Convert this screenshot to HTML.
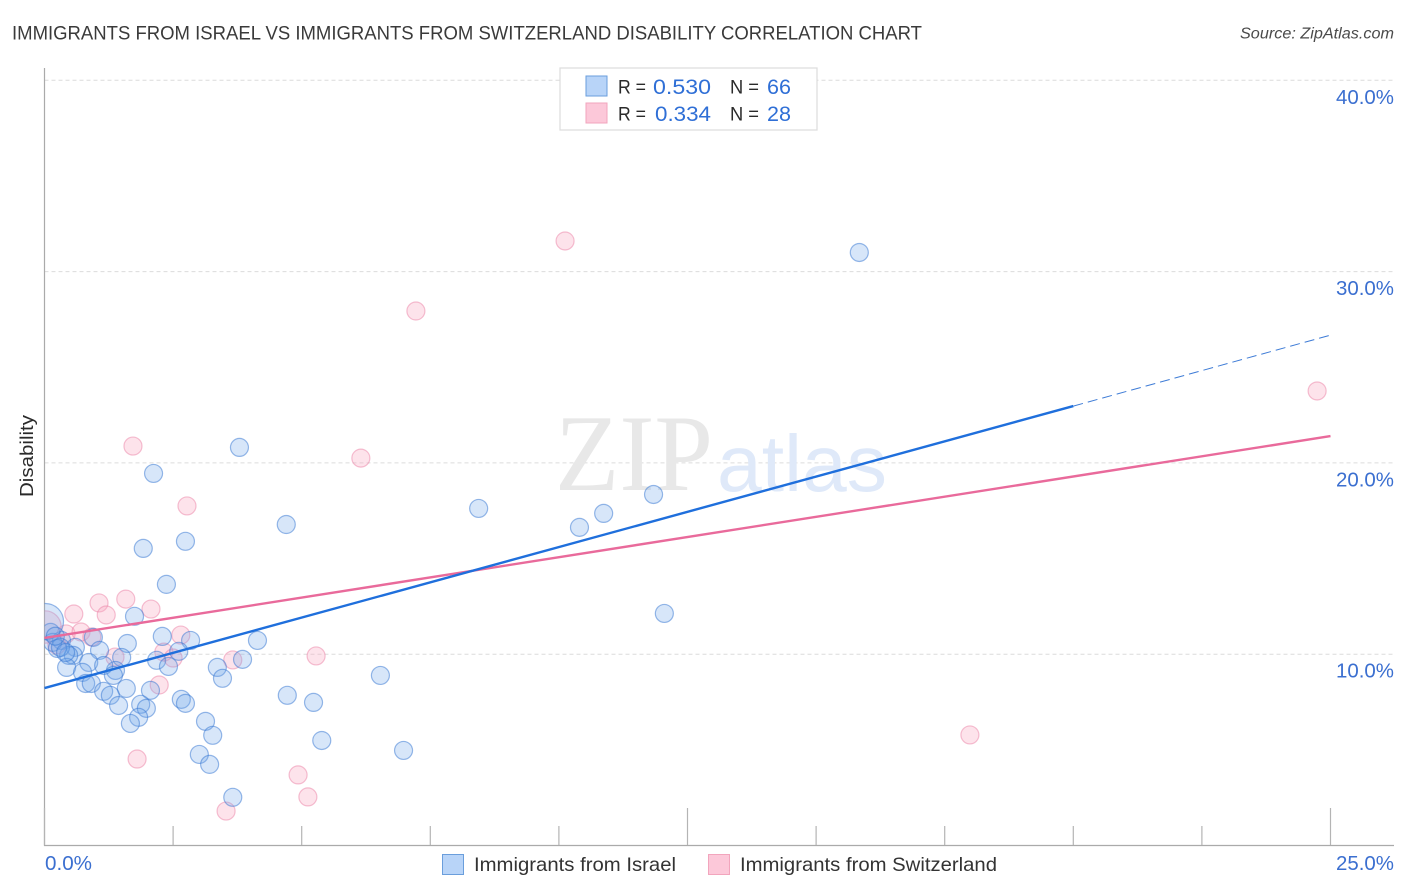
<!DOCTYPE html>
<html lang="en">
<head>
<meta charset="utf-8">
<title>Immigrants from Israel vs Immigrants from Switzerland Disability Correlation Chart</title>
<style>
html,body{margin:0;padding:0;background:#fff;}
body{width:1406px;height:892px;overflow:hidden;}
svg{display:block;font-family:"Liberation Sans",sans-serif;}
</style>
</head>
<body>
<svg id="chart" width="1406" height="892" viewBox="0 0 1406 892" xmlns="http://www.w3.org/2000/svg">
  <defs>
    <clipPath id="plot-clip"><rect x="44.5" y="60" width="1350" height="785"></rect></clipPath>
  </defs>
  <text x="12" y="39.5" font-size="19.5" fill="#3a3a3a" textLength="910" lengthAdjust="spacingAndGlyphs">IMMIGRANTS FROM ISRAEL VS IMMIGRANTS FROM SWITZERLAND DISABILITY CORRELATION CHART</text>
  <text x="1394" y="38.5" font-size="15.5" font-style="italic" fill="#4a4a4a" text-anchor="end" textLength="154" lengthAdjust="spacingAndGlyphs">Source: ZipAtlas.com</text>
  <g id="grid"></g>
  <g>
    <text x="555" y="490" font-family="'Liberation Serif',serif" font-size="109" fill="#e8e8e8" textLength="158" lengthAdjust="spacingAndGlyphs">ZIP</text>
    <text x="717" y="491" font-family="'Liberation Sans',sans-serif" font-size="80" fill="#dfe9f9" textLength="170" lengthAdjust="spacingAndGlyphs">atlas</text>
  </g>
  <g id="axes"></g>
  <g id="points-switzerland" clip-path="url(#plot-clip)"></g>
  <g id="points-israel" clip-path="url(#plot-clip)"></g>
  <g id="trends"></g>
  <g id="ticklabels"></g>
  <text transform="translate(33,456) rotate(-90)" font-size="18" fill="#2a2a2a" text-anchor="middle" textLength="82" lengthAdjust="spacingAndGlyphs">Disability</text>

  <g>
    <rect x="560" y="68" width="257" height="62" fill="#fff" stroke="#dcdcdc" stroke-width="1.2"></rect>
    <rect x="586" y="76" width="21" height="20" fill="#b8d4f8" stroke="#6a9edc"></rect>
    <rect x="586" y="103" width="21" height="20" fill="#fcc8d9" stroke="#f2a5bd"></rect>
    <text x="618" y="93.5" font-size="19.5" fill="#2a2a2a" textLength="28" lengthAdjust="spacingAndGlyphs">R =</text>
    <text x="711" y="94" font-size="21.5" fill="#2f6fd6" text-anchor="end" textLength="58" lengthAdjust="spacingAndGlyphs">0.530</text>
    <text x="730" y="93.5" font-size="19.5" fill="#2a2a2a" textLength="29" lengthAdjust="spacingAndGlyphs">N =</text>
    <text x="791" y="94" font-size="21.5" fill="#2f6fd6" text-anchor="end" textLength="24" lengthAdjust="spacingAndGlyphs">66</text>
    <text x="618" y="120.5" font-size="19.5" fill="#2a2a2a" textLength="28" lengthAdjust="spacingAndGlyphs">R =</text>
    <text x="711" y="121" font-size="21.5" fill="#2f6fd6" text-anchor="end" textLength="56" lengthAdjust="spacingAndGlyphs">0.334</text>
    <text x="730" y="120.5" font-size="19.5" fill="#2a2a2a" textLength="29" lengthAdjust="spacingAndGlyphs">N =</text>
    <text x="791" y="121" font-size="21.5" fill="#2f6fd6" text-anchor="end" textLength="24" lengthAdjust="spacingAndGlyphs">28</text>
  </g>

  <g>
    <rect x="442.5" y="854.5" width="21" height="20" fill="#b8d4f8" stroke="#6a9edc"></rect>
    <text x="474" y="871" font-size="19.5" fill="#333" textLength="202" lengthAdjust="spacingAndGlyphs">Immigrants from Israel</text>
    <rect x="708.5" y="854.5" width="21" height="20" fill="#fcc8d9" stroke="#f2a5bd"></rect>
    <text x="740" y="871" font-size="19.5" fill="#333" textLength="257" lengthAdjust="spacingAndGlyphs">Immigrants from Switzerland</text>
  </g>
</svg>
<script>
// Chart data (percent units)
const israelX = [15.84,3.79,2.12,8.44,11.84,10.87,10.40,4.70,2.74,1.92,12.05,2.37,1.75,2.29,2.84,4.14,1.61,0.95,0.33,0.12,0.16,1.07,0.60,0.56,0.47,1.50,1.38,2.61,2.18,2.41,3.85,3.36,3.46,4.72,0.86,1.15,0.43,0.74,1.34,0.80,0.91,1.59,2.06,1.15,1.28,1.44,2.66,2.74,1.87,1.98,1.83,1.67,3.13,3.27,3.01,3.21,3.66,5.23,5.39,6.98,6.53,0.02,0.25,0.31,0.41,0.21];
const israelY = [31.00,20.81,19.45,17.62,18.35,17.36,16.63,16.78,15.90,15.53,12.13,13.65,11.98,10.93,10.72,10.72,10.56,10.88,10.72,11.14,10.62,10.20,10.36,9.94,9.94,9.83,9.15,10.15,9.68,9.36,9.73,9.31,8.74,7.85,9.57,9.41,9.31,9.05,8.89,8.47,8.47,8.21,8.11,8.06,7.85,7.32,7.64,7.43,7.38,7.17,6.70,6.38,6.49,5.76,4.76,4.24,2.52,7.48,5.49,4.97,8.89,11.71,10.30,10.36,10.09,10.94];
const israelSize = [1,1,1,1,1,1,1,1,1,1,1,1,1,1,1,1,1,1,1,1,1,1,1,1,1,1,1,1,1,1,1,1,1,1,1,1,1,1,1,1,1,1,1,1,1,1,1,1,1,1,1,1,1,1,1,1,1,1,1,1,1,2,1,1,1,1];
const swissX = [10.12,7.22,24.74,6.15,1.72,2.77,17.99,5.28,3.66,2.23,1.80,4.93,5.12,3.53,1.06,1.58,0.57,1.20,2.07,0.42,0.71,0.92,1.37,2.65,2.32,2.50,0.24,0.01];
const swissY = [31.60,27.94,23.76,20.25,20.88,17.75,5.78,9.91,9.70,8.39,4.52,3.69,2.54,1.80,12.68,12.88,12.10,12.05,12.36,11.06,11.16,10.90,9.85,11.00,10.11,9.80,10.48,11.42];
const swissSize = [1,1,1,1,1,1,1,1,1,1,1,1,1,1,1,1,1,1,1,1,1,1,1,1,1,1,1,1.8];
const israelTrendX = [0,20];
const israelTrendY = [8.23,22.97];
const israelTrendExtX = [20,25];
const israelTrendExtY = [22.97,26.68];
const swissTrendX = [0,25];
const swissTrendY = [10.85,21.40];
const yTicks = [10,20,30,40];
const yTickLabels = ["10.0%","20.0%","30.0%","40.0%"];
const xTicks = [0,2.5,5,7.5,10,12.5,15,17.5,20,22.5,25];
const xMajorTicks = [0,12.5,25];
const xTickLabels = ["0.0%","25.0%"];

const SVGNS = "http://www.w3.org/2000/svg";
const xScale = v => 44.5 + v * 51.44;
const yScale = v => 845.5 - v * 19.13;
const R = 9;

function make(tag, attrs, parent) {
  const el = document.createElementNS(SVGNS, tag);
  for (const k in attrs) el.setAttribute(k, attrs[k]);
  parent.appendChild(el);
  return el;
}

const grid = document.getElementById("grid");
const axes = document.getElementById("axes");
const labels = document.getElementById("ticklabels");
const trends = document.getElementById("trends");
const ptsI = document.getElementById("points-israel");
const ptsS = document.getElementById("points-switzerland");

yTicks.forEach((t, i) => {
  const line = make("line", {x1: 44.5, x2: 1394, y1: yScale(t), y2: yScale(t), stroke: "#dcdcdc", "stroke-width": 1, "stroke-dasharray": "4 3"}, grid);
  
  
  const txt = make("text", {x: 1394, y: yScale(t) + 23.5, "font-size": 20, fill: "#3b6fd0", "text-anchor": "end", textLength: 58, lengthAdjust: "spacingAndGlyphs"}, labels);
  
  
  txt.textContent = yTickLabels[i];
});

const yAxis = make("line", {x1: 44.5, x2: 44.5, y1: 68, y2: 846, stroke: "#aaa", "stroke-width": 1.2}, axes);


const xAxis = make("line", {x1: 44, x2: 1394, y1: 845.5, y2: 845.5, stroke: "#aaa", "stroke-width": 1.2}, axes);



xTicks.forEach(t => {
  const top = xMajorTicks.includes(t) ? 808 : 826;
  const tick = make("line", {x1: xScale(t), x2: xScale(t), y1: top, y2: 845, stroke: "#b4b4b4", "stroke-width": 1.2}, axes);
  
  
});

const xl0 = make("text", {x: 45, y: 870, "font-size": 20, fill: "#3b6fd0", textLength: 47, lengthAdjust: "spacingAndGlyphs"}, labels);


xl0.textContent = xTickLabels[0];
const xl1 = make("text", {x: 1394, y: 870, "font-size": 20, fill: "#3b6fd0", "text-anchor": "end", textLength: 58, lengthAdjust: "spacingAndGlyphs"}, labels);


xl1.textContent = xTickLabels[1];

swissX.forEach((v, i) => {
  const c = make("circle", {cx: xScale(v), cy: yScale(swissY[i]), r: R * swissSize[i], fill: "rgba(248,170,195,0.33)", stroke: "rgba(236,130,165,0.5)", "stroke-width": 1.2}, ptsS);
  
  
});
israelX.forEach((v, i) => {
  const c = make("circle", {cx: xScale(v), cy: yScale(israelY[i]), r: R * israelSize[i], fill: "rgba(110,165,235,0.28)", stroke: "rgba(50,115,210,0.5)", "stroke-width": 1.2}, ptsI);
  
  
});

const tExt = make("line", {x1: xScale(israelTrendExtX[0]), x2: xScale(israelTrendExtX[1]), y1: yScale(israelTrendExtY[0]), y2: yScale(israelTrendExtY[1]), stroke: "#3d7bd6", "stroke-width": 1, "stroke-dasharray": "10 5"}, trends);


const tS = make("line", {x1: xScale(swissTrendX[0]), x2: xScale(swissTrendX[1]), y1: yScale(swissTrendY[0]), y2: yScale(swissTrendY[1]), stroke: "#e96a9b", "stroke-width": 2.4}, trends);


const tI = make("line", {x1: xScale(israelTrendX[0]), x2: xScale(israelTrendX[1]), y1: yScale(israelTrendY[0]), y2: yScale(israelTrendY[1]), stroke: "#1f6fdc", "stroke-width": 2.4}, trends);


</script>
</body>
</html>
